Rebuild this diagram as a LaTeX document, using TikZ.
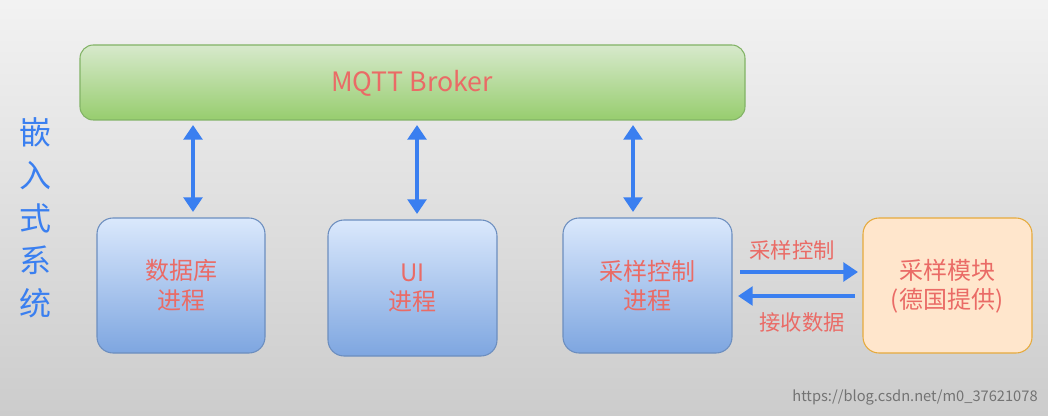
\documentclass[tikz,border=0pt]{standalone}
\usepackage{fontspec}
\setmainfont{Noto Sans CJK SC}
\usetikzlibrary{arrows.meta}
\definecolor{txt}{HTML}{EA6B66}
\definecolor{arr}{HTML}{3A7FF0}
\tikzset{
 lbl/.style={text=txt, font=\fontsize{18}{22}\selectfont, align=center},
 conn/.style={arr, line width=3pt, -{Triangle[length=11pt,width=14pt]}},
 dconn/.style={arr, line width=3pt, {Triangle[length=11pt,width=14pt]}-{Triangle[length=11pt,width=14pt]}},
}
\begin{document}
\begin{tikzpicture}[x=0.75pt,y=-0.75pt]
\shade[top color=white!95!black, bottom color=white!80!black] (0,0) rectangle (1048,416);
\useasboundingbox (0,0) rectangle (1048,416);
\shade[rounded corners=10pt, top color={rgb,255:red,215;green,233;blue,204}, bottom color={rgb,255:red,151;green,205;blue,110}] (80,45) rectangle (745,120);
\draw[draw={rgb,255:red,130;green,179;blue,102}, rounded corners=10pt, line width=0.8pt] (80,45) rectangle (745,120);
\node[lbl, font=\fontsize{20}{24}\selectfont] (broker) at (412,83) {MQTT Broker};
\coordinate (bk1) at (193,125);\coordinate (bk2) at (417,125);\coordinate (bk3) at (633,125);
\foreach \n/\xa/\ya/\xb/\yb/\t in {db/97/218/265/353/{数据库\\进程}, ui/328/220/497/356/{UI\\进程}, sc/563/218/732/353/{采样控制\\进程}}{
 \shade[rounded corners=12pt, top color={rgb,255:red,218;green,232;blue,252}, bottom color={rgb,255:red,126;green,166;blue,224}] (\xa,\ya) rectangle (\xb,\yb);
 \draw[draw={rgb,255:red,108;green,142;blue,191}, rounded corners=12pt, line width=0.8pt] (\xa,\ya) rectangle (\xb,\yb);
 \node[lbl] (\n) at ({(\xa+\xb)/2},{(\ya+\yb)/2}) {\t};
}
\draw[fill={rgb,255:red,255;green,230;blue,204}, draw={rgb,255:red,230;green,170;blue,60}, rounded corners=12pt, line width=0.8pt] (863,218) rectangle (1032,353);
\node[lbl] (mod) at (947,286) {采样模块\\(德国提供)};
\draw[dconn] (bk1) -- (193,212);
\draw[dconn] (bk2) -- (417,214);
\draw[dconn] (bk3) -- (633,212);
\coordinate (a1) at (740,272);\coordinate (a2) at (858,272);
\coordinate (b1) at (855,296);\coordinate (b2) at (738,296);
\draw[conn] (a1) -- (a2);
\draw[conn] (b1) -- (b2);
\node[lbl, font=\fontsize{16}{19}\selectfont] (l1) at (792,250) {采样控制};
\node[lbl, font=\fontsize{16}{19}\selectfont] (l2) at (802,322) {接收数据};
\node[text=arr, font=\fontsize{24}{32}\selectfont, align=center] (side) at (35,218) {嵌\\入\\式\\系\\统};
\node[text=white!45!black, font=\fontsize{11}{13}\selectfont] (wm) at (915,397) {https://blog.csdn.net/m0\_37621078};
\end{tikzpicture}
\end{document}
